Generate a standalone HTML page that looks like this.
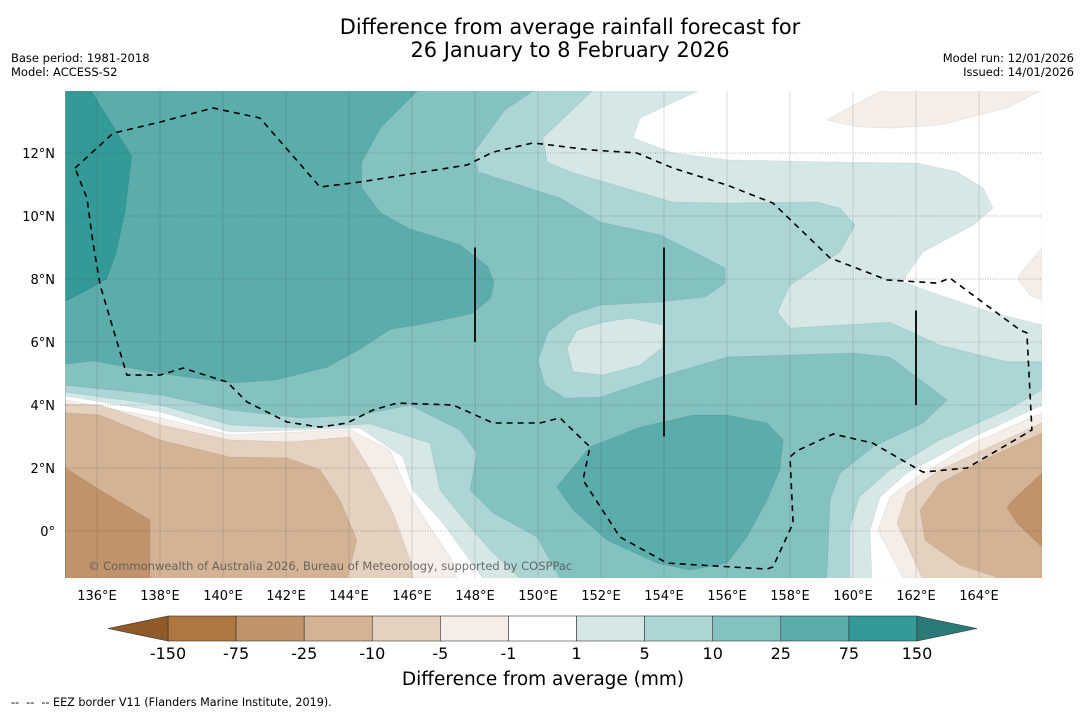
<!DOCTYPE html>
<html><head><meta charset="utf-8">
<style>
html,body{margin:0;padding:0;background:#fff;}
body{width:1085px;height:713px;overflow:hidden;font-family:"Liberation Sans","DejaVu Sans",sans-serif;}
svg text{font-family:"DejaVu Sans","Liberation Sans",sans-serif;}
</style></head>
<body>
<svg id="chart" width="1085" height="713" viewBox="0 0 1085 713" xmlns="http://www.w3.org/2000/svg">
<text x="570" y="34" font-size="20.9" text-anchor="middle" fill="#000">Difference from average rainfall forecast for</text>
<text x="570" y="57" font-size="20.9" text-anchor="middle" fill="#000">26 January to 8 February 2026</text>
<text x="11" y="62" font-size="11.5">Base period: 1981-2018</text>
<text x="11" y="76" font-size="11.5">Model: ACCESS-S2</text>
<text x="1074" y="62" font-size="11.5" text-anchor="end">Model run: 12/01/2026</text>
<text x="1074" y="76" font-size="11.5" text-anchor="end">Issued: 14/01/2026</text>
<defs><clipPath id="mapclip"><rect x="65" y="91" width="977" height="487"/></clipPath></defs>
<g id="map" clip-path="url(#mapclip)"></g>
<g id="grid"></g>
<g id="axes"></g>
<text x="88" y="570" font-size="11.5" fill="#555" fill-opacity="0.85">© Commonwealth of Australia 2026, Bureau of Meteorology, supported by COSPPac</text>
<g id="cbar"></g>
<text x="543" y="685" font-size="18.5" text-anchor="middle">Difference from average (mm)</text>
<text x="11" y="706" font-size="11.2" xml:space="preserve">--  --  -- EEZ border V11 (Flanders Marine Institute, 2019).</text>
</svg>
<script>
const levels=['-150','-75','-25','-10','-5','-1','1','5','10','25','75','150'];
const binColors=['#ae7741','#c0936a','#d3b394','#e4d1c0','#f5ede8','#ffffff','#d5e8e7','#abd6d5','#84c2c0','#5aadab','#339a97'];
const lowColor='#8f5a28', highColor='#2a7b78';
const lonTicks=[136,138,140,142,144,146,148,150,152,154,156,158,160,162,164];
const latTicks=[0,2,4,6,8,10,12];
const C10=[[135,14],[149.9,14],[148.95,13.37],[147.97,12.03],[148.1,11.4],[150.7,10.57],[151.97,9.81],[153.87,9.4],[155.14,8.76],[155.94,8.35],[155.94,7.87],[155.3,7.43],[153.87,7.27],[151.97,7.17],[151.02,6.86],[150.32,6.32],[150,5.43],[150.22,4.63],[150.86,4.22],[151.97,4.25],[154.29,5.02],[156,5.52],[160,5.65],[161.17,5.52],[162.98,4.16],[162.22,3.43],[160.63,2.67],[159.59,1.84],[159.27,0.98],[159.17,-1.5],[135,-1.5]];
const C25a=[[135,14],[146.2,14],[145,12.8],[144.4,11.7],[144.4,10.9],[145,10.1],[145.9,9.6],[147.5,9.1],[148.4,8.4],[148.6,7.9],[148.5,7.4],[147.9,6.9],[146.5,6.6],[145.3,6.4],[144.4,5.8],[143.3,5.2],[141.7,4.8],[140.3,4.7],[138,5.0],[135.9,5.4],[135,5.3]];
const C25b=[[150.6,1.4],[151.65,2.67],[153.24,3.3],[154.92,3.68],[156,3.68],[157.27,3.43],[157.78,2.89],[157.68,1.94],[157.27,0.98],[156.63,-0.19],[156,-1.02],[154.83,-1.24],[153.78,-1.02],[152.19,-0.29],[151.11,0.67]];
const C75=[[135,14],[135.8,14],[137.1,11.9],[136.9,10.2],[136.6,8.8],[136.3,8.0],[135.6,7.6],[135,7.3]];
const I15=[[150.92,5.81],[151.24,6.38],[152.06,6.63],[152.92,6.76],[153.97,6.54],[153.94,5.81],[153.24,5.27],[152.06,4.95],[151.11,5.05]];
const U15=[[151.75,14],[150.16,12.48],[150.29,11.71],[151.11,11.37],[154.29,10.44],[156,10.41],[158.86,10.44],[159.59,10.25],[160.06,9.71],[159.59,8.86],[158,7.81],[157.6,6.95],[158,6.44],[161.17,6.63],[162.76,5.9],[164.89,5.37],[166,5.37],[166,14]];
const W=[[155.14,14],[153.24,13.11],[153.02,12.48],[154.29,12],[156,11.78],[159.59,11.71],[162.03,11.68],[163.3,11.4],[164.13,10.89],[164.44,10.25],[163.81,9.71],[162.22,8.86],[161.71,8.13],[161.59,7.9],[162.76,7.49],[164.35,6.95],[166,6.54],[166,14]];
const N5a=[[159.17,13.05],[160.63,13.84],[160.95,14],[166,14],[164.89,13.43],[162.76,12.89],[161.17,12.79],[160.13,12.83]];
const N5b=[[166,8.98],[165.62,8.54],[165.21,8.03],[165.62,7.49],[166,7.33]];
const BL510=[[135,4.63],[138,4.32],[140.22,3.84],[142.44,3.59],[144.35,3.68],[145.94,4.0],[147.52,3.21],[148.06,2.48],[147.84,1.3],[148.57,0.57],[149.97,-0.19],[150.7,-1.5],[135,-1.5]];
const BL15=[[135,4.41],[138,4.0],[140.22,3.37],[142.44,3.27],[144.67,3.4],[146.57,2.79],[146.89,1.3],[147.84,0.13],[148.57,-0.7],[149.43,-1.5],[135,-1.5]];
const BLW=[[135,4.29],[138,3.78],[140.22,3.14],[144.35,3.27],[145.71,2.35],[146.03,1.3],[146.98,0.25],[148.25,-1.5],[135,-1.5]];
const BLn1=[[135,4.16],[138,3.59],[140.22,3.05],[144.03,3.21],[145.3,2.57],[145.84,1.3],[146.48,0.25],[147.21,-0.83],[147.43,-1.5],[135,-1.5]];
const BLn5=[[135,4.03],[136.1,4.0],[138,3.37],[140.22,2.89],[142.13,2.83],[144.03,2.98],[144.67,1.94],[145.4,0.57],[145.94,-0.92],[146.03,-1.5],[135,-1.5]];
const BLn10=[[135,3.75],[136.1,3.68],[138,2.89],[140.22,2.35],[142.03,2.32],[143.08,1.94],[143.71,0.98],[144.25,-0.29],[143.94,-1.5],[135,-1.5]];
const BLn25=[[135,2.0],[136.1,1.3],[137.68,0.35],[137.68,-1.5],[135,-1.5]];
const BR15=[[159.9,-1.5],[159.9,0.13],[160.2,1.08],[161.17,1.94],[162.76,2.89],[164.89,3.84],[166,4.48],[166,-1.5]];
const BRW=[[160.6,-1.5],[160.54,0.03],[160.86,1.08],[161.71,1.84],[163.81,2.98],[166,4.0],[166,-1.5]];
const BRn1=[[161.6,-1.5],[160.79,0.03],[161.17,1.08],[162.03,1.71],[163.81,2.79],[166,3.75],[166,-1.5]];
const BRn5=[[162.2,-1.5],[161.4,0.25],[161.71,1.21],[162.76,1.94],[166,3.43],[166,-1.5]];
const BRn10=[[166,3.11],[164.35,2.35],[162.76,1.52],[162.13,0.67],[162.29,-0.29],[163.4,-1.08],[164.67,-1.5],[166,-1.5]];
const BRn25=[[166,1.84],[165.08,0.98],[164.89,0.76],[165.21,0.25],[166,-0.51]];
const EEZ=[[135.3,11.52],[136.51,12.63],[138,12.98],[139.68,13.43],[141.17,13.11],[143.08,10.92],[144.35,11.08],[147.75,11.62],[148.57,12.03],[149.84,12.32],[151.65,12.1],[153.14,12.0],[154.29,11.52],[156,10.98],[157.46,10.41],[159.27,8.67],[161.08,7.97],[162.67,7.87],[163.08,8.03],[165.3,6.38],[165.52,6.29],[165.68,3.21],[165.52,3.11],[163.62,2.0],[162.22,1.87],[160.63,2.79],[159.37,3.08],[158.21,2.54],[158,2.35],[158.1,0.25],[157.46,-1.14],[157.27,-1.21],[154.1,-1.02],[152.6,-0.19],[151.43,1.62],[151.65,2.67],[150.7,3.59],[150.06,3.43],[148.57,3.43],[147.3,4.0],[145.52,4.06],[144.76,3.84],[143.94,3.43],[143.08,3.3],[142.03,3.46],[140.76,4.1],[140.13,4.73],[138.73,5.17],[138,4.95],[136.95,4.95],[136.1,7.81],[135.87,9.17],[135.68,10.57]];
const bars=[[148,9,6],[154,9,3],[162,7,4]];

const NS='http://www.w3.org/2000/svg';
function px(lon){return 65.5+(lon-135)*31.5;}
function py(lat){return 531-lat*31.5;}
function mk(tag,parent){const e=document.createElementNS(NS,tag);parent.appendChild(e);return e;}
function pts(a){return a.map(p=>px(p[0]).toFixed(1)+','+py(p[1]).toFixed(1)).join(' ');}
const map=document.getElementById('map');
const bg=mk('rect',map);


bg.setAttribute('x',65);bg.setAttribute('y',91);bg.setAttribute('width',977);bg.setAttribute('height',487);bg.setAttribute('fill',binColors[7]);
const layers=[[C10,8,'contour-10-to-25'],[C25a,9,'contour-25-to-75-north'],[C25b,9,'contour-25-to-75-south'],[C75,10,'contour-75-to-150'],[I15,6,'contour-1-to-5-island'],[U15,6,'contour-1-to-5-north'],[W,5,'contour-neutral-north'],[N5a,4,'contour-minus5-north'],[N5b,4,'contour-minus5-east'],
[BL510,7,'contour-5-to-10-southwest'],[BL15,6,'contour-1-to-5-southwest'],[BLW,5,'contour-neutral-southwest'],[BLn1,4,'contour-minus1-southwest'],[BLn5,3,'contour-minus5-southwest'],[BLn10,2,'contour-minus10-southwest'],[BLn25,1,'contour-minus25-southwest'],
[BR15,6,'contour-1-to-5-southeast'],[BRW,5,'contour-neutral-southeast'],[BRn1,4,'contour-minus1-southeast'],[BRn5,3,'contour-minus5-southeast'],[BRn10,2,'contour-minus10-southeast'],[BRn25,1,'contour-minus25-southeast']];
layers.forEach(L=>{
  const p=mk('polygon',map);
  
  
  p.setAttribute('points',pts(L[0]));
  p.setAttribute('fill',binColors[L[1]]);
  p.setAttribute('stroke','#000');p.setAttribute('stroke-opacity','0.08');p.setAttribute('stroke-width','0.8');
});
const eez=mk('polygon',map);


eez.setAttribute('points',pts(EEZ));
eez.setAttribute('fill','none');eez.setAttribute('stroke','#000');eez.setAttribute('stroke-width','1.6');eez.setAttribute('stroke-dasharray','6,5');
bars.forEach(b=>{
  const l=mk('line',map);
  
  
  l.setAttribute('x1',px(b[0]));l.setAttribute('x2',px(b[0]));l.setAttribute('y1',py(b[1]));l.setAttribute('y2',py(b[2]));
  l.setAttribute('stroke','#111');l.setAttribute('stroke-width','2');
});
const grid=document.getElementById('grid'), axes=document.getElementById('axes');
lonTicks.forEach(v=>{
  const l=mk('line',grid);
  
  
  l.setAttribute('x1',px(v));l.setAttribute('x2',px(v));l.setAttribute('y1',91);l.setAttribute('y2',578);
  l.setAttribute('stroke','#444');l.setAttribute('stroke-opacity','0.3');l.setAttribute('stroke-width','0.6');
  const t=mk('text',axes);
  
  
  t.setAttribute('x',px(v));t.setAttribute('y',600);t.setAttribute('font-size','13');t.setAttribute('text-anchor','middle');
  t.textContent=v+'°E';
});
latTicks.forEach(v=>{
  const l=mk('line',grid);
  
  
  l.setAttribute('x1',65);l.setAttribute('x2',1042);l.setAttribute('y1',py(v));l.setAttribute('y2',py(v));
  l.setAttribute('stroke','#444');l.setAttribute('stroke-opacity','0.5');l.setAttribute('stroke-width','0.8');l.setAttribute('stroke-dasharray','1,1.5');
  const t=mk('text',axes);
  
  
  t.setAttribute('x',55);t.setAttribute('y',py(v)+5);t.setAttribute('font-size','13');t.setAttribute('text-anchor','end');
  t.textContent=v===0?'0°':v+'°N';
});
const cb=document.getElementById('cbar');
const cx0=168,cx1=917,cy0=616,cy1=641,bw=(cx1-cx0)/binColors.length;
binColors.forEach((c,i)=>{
  const r=mk('rect',cb);
  
  
  r.setAttribute('x',cx0+i*bw);r.setAttribute('y',cy0);r.setAttribute('width',bw);r.setAttribute('height',cy1-cy0);
  r.setAttribute('fill',c);r.setAttribute('stroke','#333');r.setAttribute('stroke-width','0.6');
});
const tl=mk('polygon',cb);


tl.setAttribute('points',`${cx0},${cy0} 108,${(cy0+cy1)/2} ${cx0},${cy1}`);tl.setAttribute('fill',lowColor);tl.setAttribute('stroke','#333');tl.setAttribute('stroke-width','0.6');
const tr=mk('polygon',cb);


tr.setAttribute('points',`${cx1},${cy0} 977,${(cy0+cy1)/2} ${cx1},${cy1}`);tr.setAttribute('fill',highColor);tr.setAttribute('stroke','#333');tr.setAttribute('stroke-width','0.6');
levels.forEach((v,i)=>{
  const t=mk('text',cb);
  
  
  t.setAttribute('x',cx0+i*bw);t.setAttribute('y',659);t.setAttribute('font-size','16');t.setAttribute('text-anchor','middle');
  t.textContent=v;
});
</script>
</body></html>
